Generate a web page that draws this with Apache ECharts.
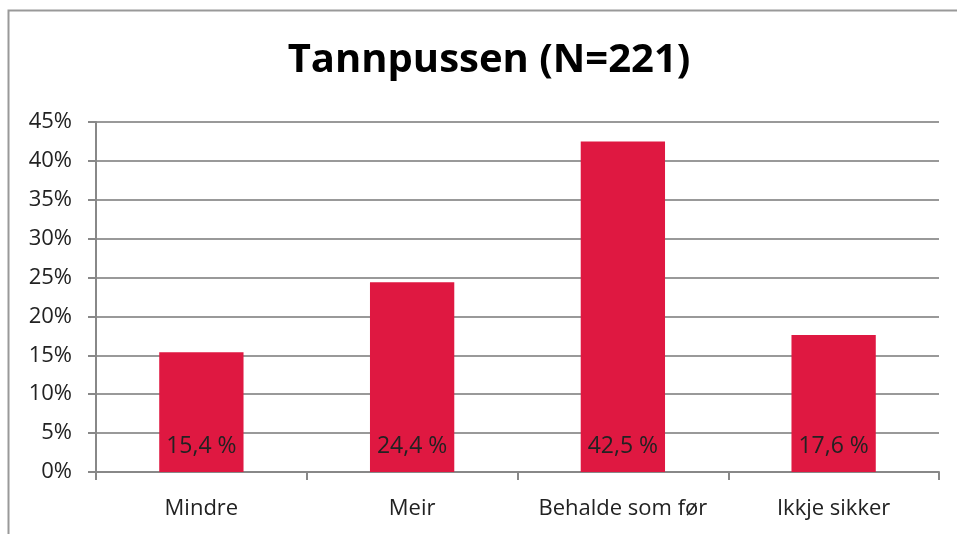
<!DOCTYPE html>
<html><head><meta charset="utf-8">
<script src="https://cdn.jsdelivr.net/npm/echarts@6/dist/echarts.min.js"></script>
<style>html,body{margin:0;padding:0;background:#fff}#c{width:957px;height:534px}</style>
</head><body><div id="c"></div>
<script>
var titleText = 'Tannpussen (N=221)';
var categories = ['Mindre', 'Meir', 'Behalde som før', 'Ikkje sikker'];
var values = [15.4, 24.4, 42.5, 17.6];
var yTicks = [0, 5, 10, 15, 20, 25, 30, 35, 40, 45];

var chart = echarts.init(document.getElementById('c'), null, {renderer: 'canvas'});
var FONT = '"Open Sans", "Noto Sans", sans-serif';
chart.setOption({
  animation: false,
  backgroundColor: '#fff',
  graphic: [{
    type: 'polyline', silent: true,
    shape: {points: [[8.5, 534], [8.5, 10.5], [957, 10.5]]},
    style: {stroke: '#999', lineWidth: 2, fill: null}
  }],
  title: {
    text: titleText, left: 484, top: 36, textAlign: 'center',
    textStyle: {fontFamily: FONT, fontWeight: 'bold', fontSize: 40, color: '#000'}
  },
  grid: {left: 96, right: 18, top: 122, bottom: 62, containLabel: false},
  xAxis: {
    type: 'category', data: categories,
    axisLine: {lineStyle: {color: '#888', width: 2}},
    axisTick: {show: true, interval: 0, length: 8, lineStyle: {color: '#888', width: 2}},
    axisLabel: {interval: 0, fontFamily: FONT, fontSize: 22, color: '#222', margin: 26}
  },
  yAxis: {
    type: 'value', min: yTicks[0], max: yTicks[yTicks.length - 1], interval: 5,
    axisLine: {show: true, lineStyle: {color: '#888', width: 2}},
    axisTick: {show: true, length: 8, lineStyle: {color: '#888', width: 2}},
    axisLabel: {fontFamily: FONT, fontSize: 22, color: '#222', margin: 24, formatter: '{value}%'},
    splitLine: {lineStyle: {color: '#999', width: 2}}
  },
  series: [{
    type: 'bar', data: values, barWidth: '40%',
    itemStyle: {color: '#DF1841'},
    label: {
      show: true, position: 'insideBottom', distance: 14,
      fontFamily: FONT, fontSize: 23, color: '#222',
      formatter: function (p) { return p.value.toFixed(1).replace('.', ',') + ' %'; }
    }
  }]
});
</script></body></html>
